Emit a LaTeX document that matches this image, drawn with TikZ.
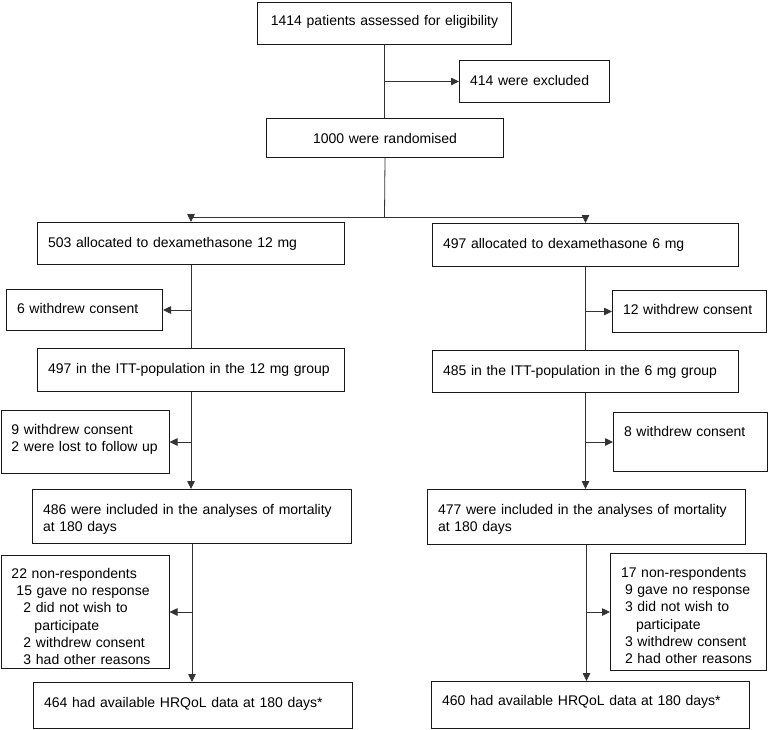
\documentclass[tikz,border=0pt]{standalone}
\usepackage{fontspec}
\setmainfont{Liberation Sans}
\usetikzlibrary{arrows.meta}

\begin{document}
\begin{tikzpicture}[x=1pt, y=-1pt,
  flowbox/.style={draw=black!90, line width=1pt, anchor=north west,
    inner xsep=10.5pt, inner ysep=0pt, align=left,
    font=\fontsize{14}{17.2}\selectfont},
  trunk/.style={draw=black!80, line width=0.8pt},
  arrowline/.style={->, trunk, >={Triangle[length=8pt,width=7.5pt]}}]

 \useasboundingbox (0,0) rectangle (768,729);

 % top part
 \node[flowbox, align=center, text width=233pt, text height=23pt, text depth=19pt] (elig) at (257,2)
     {1414 patients assessed for eligibility};

 \node[flowbox, text width=129pt, text height=25pt, text depth=17pt] (excl) at (459,60)
     {414 were excluded};

 \node[flowbox, align=center, text width=216pt, text height=25pt, text depth=14pt] (rand) at (266,118)
     {1000 were randomised};

 \coordinate (fork) at (384.5,217);

 % 12 mg group
 \node[flowbox, text width=286pt, text height=25pt, text depth=17pt] (alloc12) at (37,222)
     {503 allocated to dexamethasone 12 mg};

 \node[flowbox, text width=135pt, text height=24pt, text depth=17pt] (wdA12) at (6,289)
     {6 withdrew consent};

 \node[flowbox, text width=286pt, text height=25pt, text depth=18pt] (itt12) at (37,348)
     {497 in the ITT-population in the 12 mg group};

 \node[flowbox, text width=147pt, text height=24pt, text depth=39pt] (wdB12) at (0.5,410)
     {9 withdrew consent\\2 were lost to follow up};

 \node[flowbox, text width=298pt, text height=25pt, text depth=29pt] (inc12) at (32,489)
     {486 were included in the analyses of mortality\\at 180 days};

 \node[flowbox, text width=147pt, text height=23pt, text depth=90pt] (nr12) at (0.5,555)
     {22 non-respondents\\
      \hspace*{5pt}15 gave no response\\
      \hspace*{12pt}2 did not wish to\\
      \hspace*{23pt}participate\\
      \hspace*{12pt}2 withdrew consent\\
      \hspace*{12pt}3 had other reasons};

 \node[flowbox, text width=298pt, text height=25pt, text depth=21pt] (hrq12) at (33,682)
     {464 had available HRQoL data at 180 days*};

 % 6 mg group
 \node[flowbox, text width=285pt, text height=25pt, text depth=18pt] (alloc6) at (432,223)
     {497 allocated to dexamethasone 6 mg};

 \node[flowbox, text width=133pt, text height=24pt, text depth=18pt] (wdA6) at (612,290)
     {12 withdrew consent};

 \node[flowbox, text width=285pt, text height=25pt, text depth=17pt] (itt6) at (432,350)
     {485 in the ITT-population in the 6 mg group};

 \node[flowbox, text width=133pt, text height=24pt, text depth=35pt] (wdB6) at (613,412)
     {8 withdrew consent};

 \node[flowbox, text width=297pt, text height=25pt, text depth=30pt] (inc6) at (427,489)
     {477 were included in the analyses of mortality\\at 180 days};

 \node[flowbox, text width=135pt, text height=24pt, text depth=93pt] (nr6) at (610,553)
     {17 non-respondents\\
      \hspace*{4pt}9 gave no response\\
      \hspace*{4pt}3 did not wish to\\
      \hspace*{15pt}participate\\
      \hspace*{4pt}3 withdrew consent\\
      \hspace*{4pt}2 had other reasons};

 \node[flowbox, text width=297pt, text height=24pt, text depth=23pt] (hrq6) at (431,681)
     {460 had available HRQoL data at 180 days*};


 \draw [trunk] (elig.south) -- (elig.south |- rand.north);
 \draw [arrowline] (elig.south |- excl.west) -- (excl.west);
 \draw [trunk] (rand.south) -- (fork);
 \draw [arrowline] (fork) -| (alloc12.north);
 \draw [arrowline] (fork) -| (alloc6.north);

 \draw [trunk] (alloc12.south) -- (alloc12.south |- itt12.north);
 \draw [arrowline] (alloc12.south |- wdA12.east) -- (wdA12.east);
 \draw [arrowline] (itt12.south) -- (itt12.south |- inc12.north);
 \draw [arrowline] (itt12.south |- wdB12.east) -- (wdB12.east);
 \draw [arrowline] (inc12.south) -- (inc12.south |- hrq12.north);
 \draw [arrowline] (inc12.south |- nr12.east) -- (nr12.east);

 \draw [trunk] (alloc6.south) -- (alloc6.south |- itt6.north);
 \draw [arrowline] (alloc6.south |- wdA6.west) -- (wdA6.west);
 \draw [arrowline] (itt6.south) -- (itt6.south |- inc6.north);
 \draw [arrowline] (itt6.south |- wdB6.west) -- (wdB6.west);
 \draw [arrowline] (inc6.south) -- (inc6.south |- hrq6.north);
 \draw [arrowline] (inc6.south |- nr6.west) -- (nr6.west);

\end{tikzpicture}
\end{document}
